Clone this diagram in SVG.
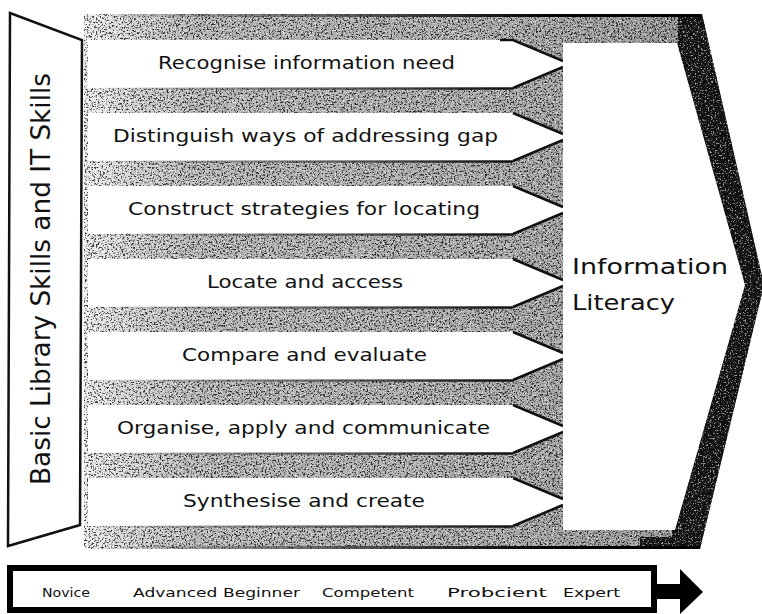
<svg xmlns="http://www.w3.org/2000/svg" width="762" height="614" viewBox="0 0 762 614">
<defs>
  <style>
    .row { fill: #ffffff; }
    .taper { fill: none; stroke: #111; stroke-width: 2.5; stroke-linejoin: miter; }
    .rowline { fill: none; stroke: url(#edgeGrad); stroke-width: 2.5; }
    .lbl { font-family: "DejaVu Sans", Verdana, sans-serif; font-size: 18px; fill: #111; }
    .big { font-family: "DejaVu Sans", Verdana, sans-serif; font-size: 21px; fill: #111; }
    .side { font-family: "DejaVu Sans", Verdana, sans-serif; font-size: 26px; fill: #111; }
    .stage { font-family: "DejaVu Sans", Verdana, sans-serif; font-size: 13px; fill: #111; }
  </style>
  <linearGradient id="bgGrad" gradientUnits="userSpaceOnUse" x1="84" y1="0" x2="700" y2="0">
    <stop offset="0" stop-color="#f2f2f2"/>
    <stop offset="0.07" stop-color="#d8d8d8"/>
    <stop offset="0.18" stop-color="#bababa"/>
    <stop offset="0.7" stop-color="#ababab"/>
    <stop offset="1" stop-color="#959595"/>
  </linearGradient>
  <linearGradient id="edgeGrad" gradientUnits="userSpaceOnUse" x1="88" y1="0" x2="563" y2="0">
    <stop offset="0" stop-color="#555" stop-opacity="0"/>
    <stop offset="0.35" stop-color="#444" stop-opacity="0.5"/>
    <stop offset="0.85" stop-color="#111" stop-opacity="0.95"/>
    <stop offset="1" stop-color="#000"/>
  </linearGradient>
  <filter id="blackSpeck" filterUnits="userSpaceOnUse" x="0" y="0" width="762" height="614">
    <feTurbulence type="fractalNoise" baseFrequency="0.55" numOctaves="3" seed="5"/>
    <feColorMatrix type="matrix" values="0 0 0 0 0  0 0 0 0 0  0 0 0 0 0  6 0 0 0 -3.1"/>
  </filter>
  <filter id="whiteSpeck" filterUnits="userSpaceOnUse" x="0" y="0" width="762" height="614">
    <feTurbulence type="fractalNoise" baseFrequency="0.6" numOctaves="3" seed="11"/>
    <feColorMatrix type="matrix" values="0 0 0 0 1  0 0 0 0 1  0 0 0 0 1  0 -6 0 0 2.6"/>
  </filter>
  <clipPath id="outerClip">
    <polygon points="84,14 702,14 764,285 700,549 84,549"/>
  </clipPath>
</defs>

<g id="background">
  <polygon points="84,14 702,14 764,285 700,549 84,549" fill="url(#bgGrad)"/>
  <polygon points="678,14 702,14 764,285 700,549 640,549 640,537 672,537" fill="#161616"/>
  <g clip-path="url(#outerClip)">
    <rect x="84" y="14" width="680" height="536" filter="url(#blackSpeck)" opacity="0.75"/>
    <rect x="84" y="14" width="680" height="536" filter="url(#whiteSpeck)" opacity="0.6"/>
  </g>
  <path d="M120,15.5 H702" stroke="url(#edgeGrad)" stroke-width="3" fill="none"/>
  <path d="M120,547.5 H700" stroke="url(#edgeGrad)" stroke-width="3" fill="none"/>
</g>

<g id="left-panel">
  <polygon points="10,13 82,40 80,525 8,546" fill="#ffffff" stroke="#111" stroke-width="2.5" stroke-linejoin="miter"/>
  <text class="side" transform="translate(50,279) rotate(-90)" text-anchor="middle" textLength="412" lengthAdjust="spacingAndGlyphs">Basic Library Skills and IT Skills</text>
</g>

<g id="row1">
  <polygon class="row" points="88,40 513,40 564,61 564,67 513,88 88,88"/>
  <path class="taper" d="M500,40 H513 L563,61 M563,67 L513,88"/>
  <path class="rowline" d="M88,88.5 H513"/>
  <text class="lbl" x="158" y="69" textLength="297" lengthAdjust="spacingAndGlyphs">Recognise information need</text>
</g>
<g id="row2">
  <polygon class="row" points="88,113 513,113 564,134 564,140 513,161 88,161"/>
  <path class="taper" d="M563,134 L513,113 M563,140 L513,161"/>
  <path class="rowline" d="M88,161.5 H513"/>
  <text class="lbl" x="113" y="142" textLength="385" lengthAdjust="spacingAndGlyphs">Distinguish ways of addressing gap</text>
</g>
<g id="row3">
  <polygon class="row" points="88,186 513,186 564,207 564,213 513,234 88,234"/>
  <path class="taper" d="M563,207 L513,186 M563,213 L513,234"/>
  <path class="rowline" d="M88,234.5 H513"/>
  <text class="lbl" x="128" y="215" textLength="352" lengthAdjust="spacingAndGlyphs">Construct strategies for locating</text>
</g>
<g id="row4">
  <polygon class="row" points="88,259 513,259 564,280 564,286 513,307 88,307"/>
  <path class="taper" d="M563,280 L513,259 M563,286 L513,307"/>
  <path class="rowline" d="M88,307.5 H513"/>
  <text class="lbl" x="207" y="288" textLength="196" lengthAdjust="spacingAndGlyphs">Locate and access</text>
</g>
<g id="row5">
  <polygon class="row" points="88,332 513,332 564,353 564,359 513,380 88,380"/>
  <path class="taper" d="M563,353 L513,332 M563,359 L513,380"/>
  <path class="rowline" d="M88,380.5 H513"/>
  <text class="lbl" x="182" y="361" textLength="245" lengthAdjust="spacingAndGlyphs">Compare and evaluate</text>
</g>
<g id="row6">
  <polygon class="row" points="88,405 513,405 564,426 564,432 513,453 88,453"/>
  <path class="taper" d="M563,426 L513,405 M563,432 L513,453"/>
  <path class="rowline" d="M88,453.5 H513"/>
  <text class="lbl" x="117" y="434" textLength="373" lengthAdjust="spacingAndGlyphs">Organise, apply and communicate</text>
</g>
<g id="row7">
  <polygon class="row" points="88,478 513,478 564,499 564,505 513,526 88,526"/>
  <path class="taper" d="M563,499 L513,478 M563,505 L513,526"/>
  <path class="rowline" d="M88,526.5 H513"/>
  <text class="lbl" x="183" y="507" textLength="242" lengthAdjust="spacingAndGlyphs">Synthesise and create</text>
</g>

<g id="information-literacy">
  <polygon points="563,43 677,43 745,285 675,530 563,530" fill="#ffffff"/>
  <text class="big" x="572" y="274" textLength="156" lengthAdjust="spacingAndGlyphs">Information</text>
  <text class="big" x="572" y="310" textLength="103" lengthAdjust="spacingAndGlyphs">Literacy</text>
</g>

<g id="stages">
  <rect x="10" y="568" width="644" height="42" fill="#ffffff" stroke="#000" stroke-width="6"/>
  <text class="stage" x="42" y="597" textLength="48" lengthAdjust="spacingAndGlyphs">Novice</text>
  <text class="stage" x="133" y="597" textLength="167" lengthAdjust="spacingAndGlyphs">Advanced Beginner</text>
  <text class="stage" x="322" y="597" textLength="92" lengthAdjust="spacingAndGlyphs">Competent</text>
  <text class="stage" x="447" y="597" textLength="100" lengthAdjust="spacingAndGlyphs">Probcient</text>
  <text class="stage" x="563" y="597" textLength="57" lengthAdjust="spacingAndGlyphs">Expert</text>
</g>

<g id="connectors">
  <rect x="655" y="584" width="27" height="15" fill="#000"/>
  <polygon points="680,569 703,592 680,614" fill="#000"/>
</g>
</svg>
